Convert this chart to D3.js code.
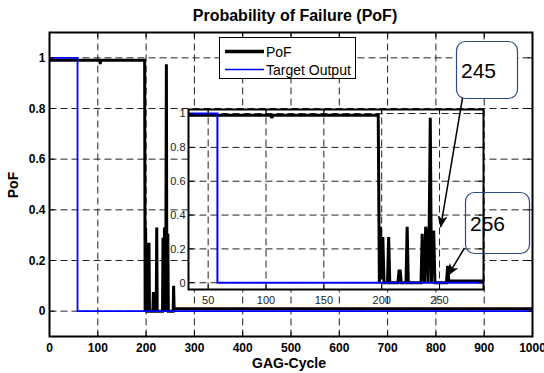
<!DOCTYPE html>
<html>
<head>
<meta charset="utf-8">
<script src="https://cdn.jsdelivr.net/npm/d3@7"></script>
<style>
  body { margin: 0; background: #fff; }
  svg { display: block; font-family: Arial, "Liberation Sans", sans-serif; }
</style>
</head>
<body>
<svg id="chart" width="544" height="373"></svg>
<script>
/* PoF per GAG cycle */
const pofCycles = [0, 104, 105, 106, 196, 197, 198, 199, 200, 201, 202, 205, 206, 207,
  214, 215, 216, 217, 221, 222, 223, 234, 235, 236, 237, 238, 239, 240, 241, 242, 243,
  244, 245, 246, 256, 257, 258, 1000];
const pofValues = [0.99, 0.99, 0.975, 0.99, 0.99, 0.99, 0.0, 0.33, 0.02, 0.27, 0.0, 0.0, 0.27, 0.0,
  0.0, 0.07, 0.07, 0.0, 0.0, 0.33, 0.0, 0.0, 0.29, 0.05, 0.0, 0.33, 0.30, 0.0, 0.30, 0.975, 0.0,
  0.30, 0.30, 0.0, 0.0, 0.10, 0.01, 0.01];

/* target output */
const targetCycles = [0, 58, 58, 1000];
const targetValues = [1, 1, 0, 0];

/* ticks */
const mainXTicks = [0, 100, 200, 300, 400, 500, 600, 700, 800, 900, 1000];
const mainYTicks = [0, 0.2, 0.4, 0.6, 0.8, 1];
const insetXTicks = [50, 100, 150, 200, 250];
const insetYTicks = [0, 0.2, 0.4, 0.6, 0.8, 1];

/* callouts: label and the point the arrow points at (inset coords) */
const calloutLabels = ["245", "256"];
const calloutCycles = [251, 257.5];
const calloutValues = [0.33, 0.045];

const pof = pofCycles.map((c, i) => [c, pofValues[i]]);
const target = targetCycles.map((c, i) => [c, targetValues[i]]);

const svg = d3.select("#chart");

const x = d3.scaleLinear().domain([0, 1000]).range([49.5, 532.5]);
const y = d3.scaleLinear().domain([-0.1, 1.1]).range([336.5, 32.5]);

const xi = d3.scaleLinear().domain([33, 288]).range([188.5, 483.5]);
const yi = d3.scaleLinear().domain([-0.04, 1.024]).range([289.5, 109.5]);

const fmt = d => (d === 0 || d === 1) ? String(d) : d.toFixed(1);

const defs = svg.append("defs");
defs.append("clipPath").attr("id", "clipMain").append("rect")
  .attr("x", x(0)).attr("y", y(1.1)).attr("width", x(1000) - x(0)).attr("height", y(-0.1) - y(1.1));
defs.append("clipPath").attr("id", "clipInset").append("rect")
  .attr("x", xi(33)).attr("y", yi(1.024)).attr("width", xi(288) - xi(33)).attr("height", yi(-0.04) - yi(1.024));
defs.append("marker")
  .attr("id", "arrow")
  .attr("viewBox", "0 -5 12 10")
  .attr("refX", 11).attr("refY", 0)
  .attr("markerWidth", 12).attr("markerHeight", 10)
  .attr("markerUnits", "userSpaceOnUse")
  .attr("orient", "auto")
  .append("path").attr("d", "M0,-5L12,0L0,5L3,0Z").attr("fill", "#000");

// draws one set of axes: grid, lines, box, inward ticks, labels
function drawAxes(g, sx, sy, xt, yt, clipId, opts) {
  const [x0, x1] = sx.range();
  const [y0, y1] = sy.range();

  g.append("rect").attr("x", x0).attr("y", y1).attr("width", x1 - x0).attr("height", y0 - y1)
    .attr("fill", "#fff");

  const grid = g.append("g").attr("stroke", "#222").attr("stroke-width", 1)
    .attr("stroke-dasharray", "7,4");
  grid.selectAll(".vx").data(xt).enter().append("line")
    .attr("x1", d => sx(d)).attr("x2", d => sx(d)).attr("y1", y0).attr("y2", y1);
  grid.selectAll(".hy").data(yt).enter().append("line")
    .attr("x1", x0).attr("x2", x1).attr("y1", d => sy(d)).attr("y2", d => sy(d));

  const line = d3.line().x(d => sx(d[0])).y(d => sy(d[1]));
  const plot = g.append("g").attr("clip-path", `url(#${clipId})`);
  plot.append("path").datum(pof).attr("d", line)
    .attr("fill", "none").attr("stroke", "#000").attr("stroke-width", 3)
    .attr("stroke-linejoin", "miter").attr("stroke-miterlimit", 2);
  plot.append("path").datum(target).attr("d", line)
    .attr("fill", "none").attr("stroke", "#0000ff").attr("stroke-width", opts.blueWidth);

  const ticks = g.append("g").attr("stroke", "#000").attr("stroke-width", 1);
  const tl = 5;
  xt.forEach(t => {
    ticks.append("line").attr("x1", sx(t)).attr("x2", sx(t)).attr("y1", y0).attr("y2", y0 - tl);
    ticks.append("line").attr("x1", sx(t)).attr("x2", sx(t)).attr("y1", y1).attr("y2", y1 + tl);
  });
  yt.forEach(t => {
    ticks.append("line").attr("x1", x0).attr("x2", x0 + tl).attr("y1", sy(t)).attr("y2", sy(t));
    ticks.append("line").attr("x1", x1).attr("x2", x1 - tl).attr("y1", sy(t)).attr("y2", sy(t));
  });

  g.append("rect").attr("x", x0).attr("y", y1).attr("width", x1 - x0).attr("height", y0 - y1)
    .attr("fill", "none").attr("stroke", "#000").attr("stroke-width", 2);

  g.append("g").selectAll("text").data(xt).enter().append("text")
    .attr("x", d => sx(d)).attr("y", y0 + opts.xLabelOffset)
    .attr("text-anchor", "middle")
    .attr("font-size", opts.fontSize).attr("font-weight", opts.fontWeight).attr("fill", opts.textColor)
    .text(d => d);
  g.append("g").selectAll("text").data(yt).enter().append("text")
    .attr("x", x0 - opts.yLabelOffset).attr("y", d => sy(d)).attr("dy", "0.35em")
    .attr("text-anchor", "end")
    .attr("font-size", opts.fontSize).attr("font-weight", opts.fontWeight).attr("fill", opts.textColor)
    .text(fmt);
}

// main axes
const mainG = svg.append("g");
drawAxes(mainG, x, y, mainXTicks, mainYTicks, "clipMain",
  { blueWidth: 1.8, xLabelOffset: 15, yLabelOffset: 4, fontSize: 12, fontWeight: "bold", textColor: "#000" });

svg.append("text").attr("x", 295).attr("y", 21).attr("text-anchor", "middle")
  .attr("font-size", 16).attr("font-weight", "bold").text("Probability of Failure (PoF)");
svg.append("text").attr("x", 289).attr("y", 368).attr("text-anchor", "middle")
  .attr("font-size", 14).attr("font-weight", "bold").text("GAG-Cycle");
svg.append("text").attr("transform", "translate(18,185) rotate(-90)").attr("text-anchor", "middle")
  .attr("font-size", 14).attr("font-weight", "bold").text("PoF");

// legend
const lg = svg.append("g");
lg.append("rect").attr("x", 219.5).attr("y", 37.5).attr("width", 136).attr("height", 41)
  .attr("fill", "#fff").attr("stroke", "#000").attr("stroke-width", 1);
lg.append("line").attr("x1", 225).attr("x2", 264).attr("y1", 51.5).attr("y2", 51.5)
  .attr("stroke", "#000").attr("stroke-width", 3.5);
lg.append("line").attr("x1", 225).attr("x2", 264).attr("y1", 69.5).attr("y2", 69.5)
  .attr("stroke", "#0000ff").attr("stroke-width", 1.5);
lg.append("text").attr("x", 266).attr("y", 56.5).attr("font-size", 14).text("PoF");
lg.append("text").attr("x", 266).attr("y", 74.5).attr("font-size", 14).text("Target Output");

// inset zoom
const insetG = svg.append("g");
drawAxes(insetG, xi, yi, insetXTicks, insetYTicks, "clipInset",
  { blueWidth: 2, xLabelOffset: 14, yLabelOffset: 3, fontSize: 11, fontWeight: "normal", textColor: "#222" });

// callouts
const boxes = [[456, 41, 61, 57], [465, 192, 64, 61]];
const starts = [[462.5, 98], [464.5, 248]];
const co = svg.append("g");
calloutLabels.forEach((lab, i) => {
  const b = boxes[i];
  co.append("rect").attr("x", b[0] + 0.5).attr("y", b[1] + 0.5).attr("width", b[2]).attr("height", b[3])
    .attr("rx", 9).attr("ry", 9)
    .attr("fill", i === 0 ? "#fff" : "none").attr("stroke", "#2c4a86").attr("stroke-width", 1.2);
  co.append("text").attr("x", b[0] + 5).attr("y", b[1] + b[3] / 2 + 8)
    .attr("font-size", 21).attr("fill", "#000").text(lab);
  co.append("line")
    .attr("x1", starts[i][0]).attr("y1", starts[i][1])
    .attr("x2", xi(calloutCycles[i])).attr("y2", yi(calloutValues[i]))
    .attr("stroke", "#000").attr("stroke-width", 1.5).attr("marker-end", "url(#arrow)");
});
</script>
</body>
</html>
